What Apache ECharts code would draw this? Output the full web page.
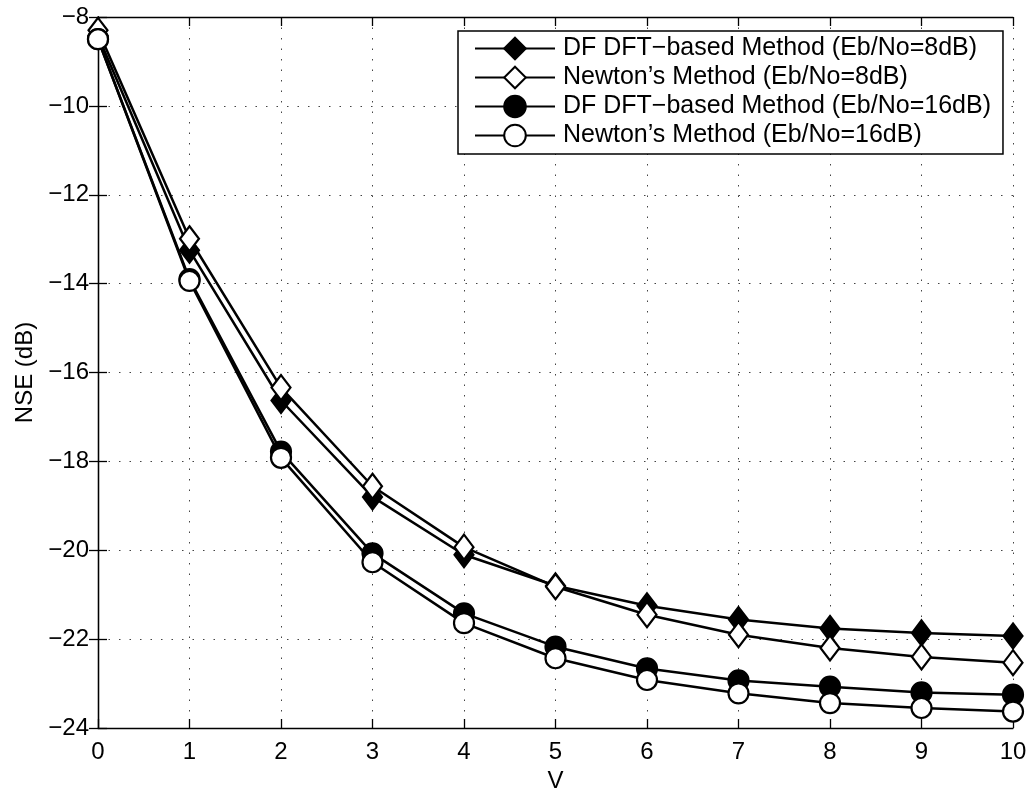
<!DOCTYPE html>
<html>
<head>
<meta charset="utf-8">
<script src="https://cdn.jsdelivr.net/npm/echarts@6/dist/echarts.min.js"></script>
<style>
html,body{margin:0;padding:0;background:#fff;}
#chart{width:1035px;height:798px;}
</style>
</head>
<body>
<div id="chart"></div>
<script>
const xValues = [0,1,2,3,4,5,6,7,8,9,10];
const dfDft8 = [-8.42,-13.25,-16.63,-18.8,-20.1,-20.8,-21.25,-21.56,-21.76,-21.86,-21.93];
const newton8 = [-8.3,-12.99,-16.34,-18.56,-19.93,-20.82,-21.45,-21.9,-22.2,-22.4,-22.53];
const dfDft16 = [-8.5,-13.9,-17.78,-20.07,-21.42,-22.17,-22.66,-22.93,-23.07,-23.2,-23.25];
const newton16 = [-8.5,-13.94,-17.92,-20.27,-21.64,-22.43,-22.92,-23.22,-23.44,-23.55,-23.63];
const seriesNames = [
  'DF DFT\u2212based Method (Eb/No=8dB)',
  'Newton\u2019s Method (Eb/No=8dB)',
  'DF DFT\u2212based Method (Eb/No=16dB)',
  'Newton\u2019s Method (Eb/No=16dB)'
];
const xTicks = {min:0, max:10, interval:1};
const yTicks = {min:-24, max:-8, interval:2};

const FONT = '"Liberation Sans", Arial, Helvetica, sans-serif';
const FS = 24;
const chart = echarts.init(document.getElementById('chart'), null, {renderer:'canvas'});

function pairs(ys){ return xValues.map((x,i)=>[x, ys[i]]); }
const minusFmt = v => String(v).replace('-', '\u2212');

function mkSeries(name, data, symbol, filled, size){
  return {
    name: name,
    type: 'line',
    data: pairs(data),
    symbol: symbol,
    symbolSize: size,
    showAllSymbol: true,
    clip: false,
    animation: false,
    lineStyle: {color:'#000', width:2.5},
    itemStyle: {color: filled ? '#000' : '#fff', borderColor:'#000', borderWidth: 2.2},
    emphasis: {disabled:true}
  };
}

const axisLineStyle = {lineStyle:{color:'#000', width:1.3}};
const tickStyle = {show:true, inside:true, length:9, lineStyle:{color:'#000', width:1.3}};

const option = {
  backgroundColor:'#fff',
  animation:false,
  grid:{left:98, right:22, top:17, bottom:66, containLabel:false},
  legend:{
    left:458, top:31,
    orient:'vertical',
    data: seriesNames,
    itemWidth:80, itemHeight:27, itemGap:4,
    padding:[5,12,6,16],
    borderColor:'#000', borderWidth:1.5,
    backgroundColor:'#fff',
    textStyle:{fontFamily:FONT, fontSize:25, color:'#000', padding:[0,0,0,3]},
    selectedMode:false
  },
  xAxis:[
    {type:'value', position:'bottom', min:xTicks.min, max:xTicks.max, interval:xTicks.interval,
     name:'V', nameLocation:'middle', nameGap:41,
     nameTextStyle:{fontFamily:FONT, fontSize:FS, color:'#000'},
     axisLine:{show:true, ...axisLineStyle}, axisTick:tickStyle,
     axisLabel:{fontFamily:FONT, fontSize:FS, color:'#000', margin:12, formatter:minusFmt},
     splitLine:{show:true, lineStyle:{color:'#444', width:1, type:[1.5,9]}}},
    {type:'value', position:'top', min:xTicks.min, max:xTicks.max, interval:xTicks.interval,
     axisLine:{show:true, ...axisLineStyle}, axisTick:tickStyle,
     axisLabel:{show:false}, splitLine:{show:false}}
  ],
  yAxis:[
    {type:'value', position:'left', min:yTicks.min, max:yTicks.max, interval:yTicks.interval,
     name:'NSE (dB)', nameLocation:'middle', nameGap:58,
     nameTextStyle:{fontFamily:FONT, fontSize:FS, color:'#000'},
     axisLine:{show:true, ...axisLineStyle}, axisTick:tickStyle,
     axisLabel:{fontFamily:FONT, fontSize:FS, color:'#000', margin:9, formatter:minusFmt},
     splitLine:{show:true, lineStyle:{color:'#444', width:1, type:[1.5,9]}}},
    {type:'value', position:'right', min:yTicks.min, max:yTicks.max, interval:yTicks.interval,
     axisLine:{show:true, ...axisLineStyle}, axisTick:tickStyle,
     axisLabel:{show:false}, splitLine:{show:false}}
  ],
  series:[
    mkSeries(seriesNames[0], dfDft8, 'diamond', true, [19,25]),
    mkSeries(seriesNames[1], newton8, 'diamond', false, [19,25]),
    mkSeries(seriesNames[2], dfDft16, 'circle', true, 20),
    mkSeries(seriesNames[3], newton16, 'circle', false, 20)
  ]
};
chart.setOption(option);
</script>
</body>
</html>
